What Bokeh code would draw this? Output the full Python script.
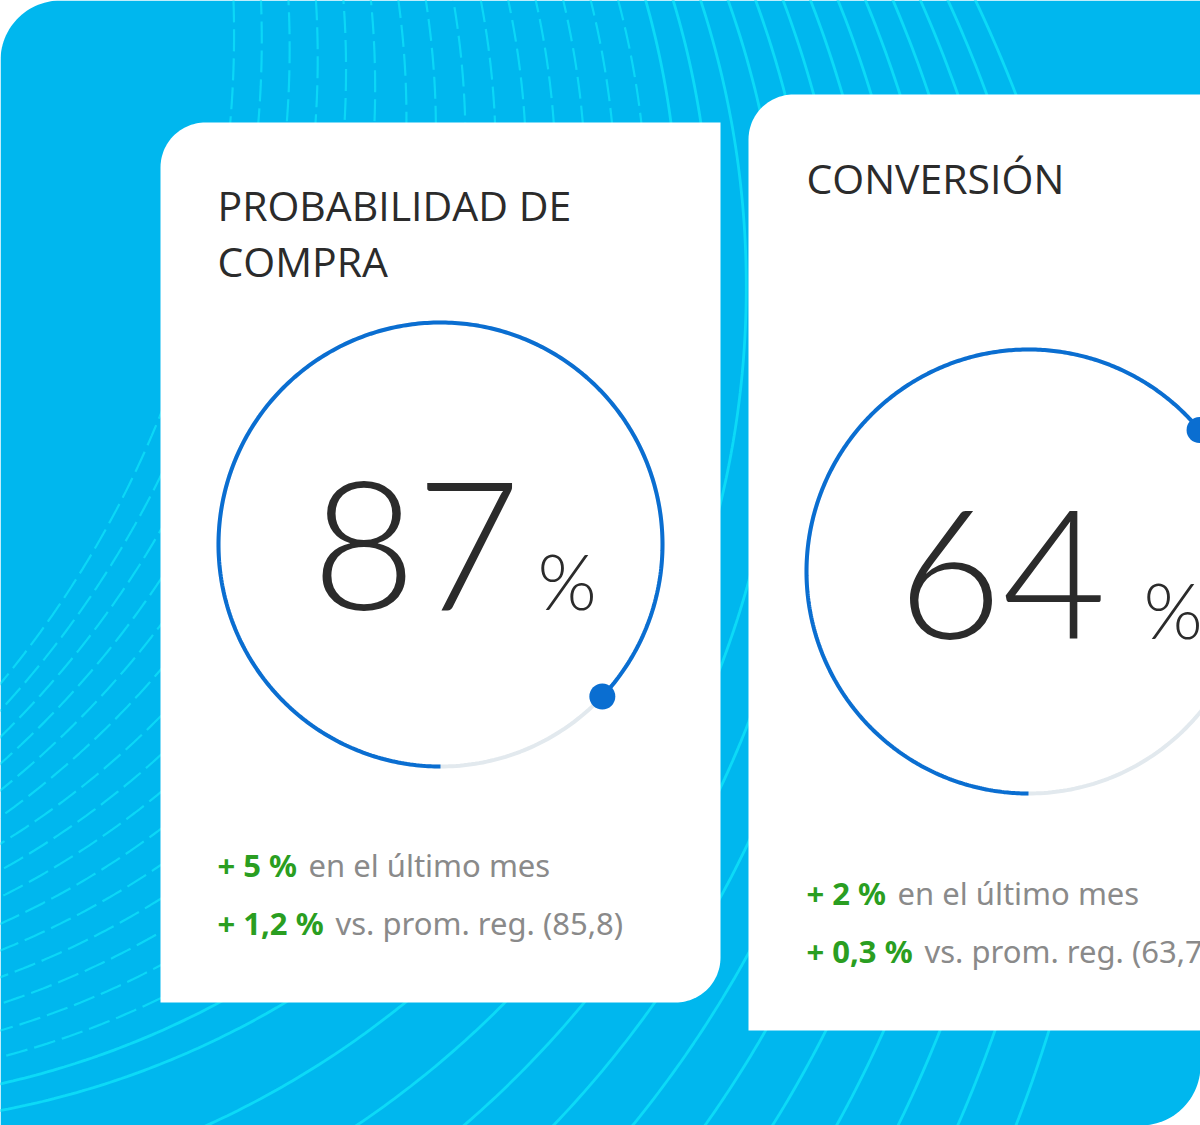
import numpy as np
from bokeh.plotting import figure
from bokeh.models import Range1d
from bokeh.core.properties import value
from bokeh.embed import file_html
from bokeh.resources import INLINE

# ---------------- data ----------------
title_lines = [["PROBABILIDAD DE", "COMPRA"], ["CONVERSIÓN"]]
kpi_values = [87, 64]
month_delta = ["+ 5 %", "+ 2 %"]
month_label = "en el último mes"
region_delta = ["+ 1,2 %", "+ 0,3 %"]
region_avg = ["85,8", "63,7"]

# ---------------- layout / style ----------------
W, H = 1200, 1125
BLUE_BG = "#00B7EE"
LINE_C = "#0CDAF7"
GAUGE_BLUE = "#0A6ED1"
TRACK = "#E2E9EE"
DARK = "#2B2B2B"
GREEN = "#2A9E21"
GREY = "#8A8A8A"

cards = [
    dict(x0=160, y0=122, x1=720, y1=1002, rtl=45, rbr=45, tx=217, title_y=222,
         cx=440, cy=544, num_x=520, pct_x=537, num_y=608, foot_y=877),
    dict(x0=748, y0=94, x1=1320, y1=1030, rtl=45, rbr=0, tx=806, title_y=195,
         cx=1028, cy=571, num_x=1106, pct_x=1143, num_y=637, foot_y=905),
]
GAUGE_R = 222

# font sizes and empirical baseline corrections (svg text renders below the anchor)
TITLE_FS, TITLE_DY = 41, 18
NUM_FS, NUM_DY = 180, 63
PCT_FS, PCT_DY = 76, 28
FOOT_FS, FOOT_DY = 31, 13


def rrect(x0, y0, x1, y1, rtl=0, rtr=0, rbr=0, rbl=0, n=30):
    xs, ys = [], []
    for cx, cy, r, a0, a1 in [(x0 + rtl, y0 + rtl, rtl, 180, 270),
                              (x1 - rtr, y0 + rtr, rtr, 270, 360),
                              (x1 - rbr, y1 - rbr, rbr, 0, 90),
                              (x0 + rbl, y1 - rbl, rbl, 90, 180)]:
        if r == 0:
            xs.append(cx); ys.append(cy)
        else:
            t = np.radians(np.linspace(a0, a1, n))
            xs += list(cx + r * np.cos(t)); ys += list(cy + r * np.sin(t))
    return xs, ys


p = figure(width=W, height=H, x_range=Range1d(0, W), y_range=Range1d(H, 0),
           output_backend="svg", toolbar_location=None, min_border=0,
           x_axis_location=None, y_axis_location=None)
p.grid.visible = False
p.outline_line_color = None
p.background_fill_color = "white"
p.border_fill_color = "white"

# blue backdrop
bx, by = rrect(0, 0, W, H, rtl=60, rbr=60)
p.patch(bx, by, fill_color=BLUE_BG, line_color=None)

# decorative swoosh lines (families of circle arcs)
n_lines = 28
top_x = np.linspace(233, 975, n_lines)
top_slope = np.interp(top_x, [233, 300, 400, 500, 730, 980], [30, 18, 7, 4.8, 2.8, 2.1])
left_y = np.interp(np.arange(n_lines), [0, 16, 27], [683, 1110, 2000])
dashed_xs, dashed_ys, solid_xs, solid_ys = [], [], [], []
phi = np.radians(np.linspace(-90, 180, 700))
for i in range(n_lines):
    xt, s, yl = top_x[i], top_slope[i], left_y[i]
    nn = np.sqrt(1 + s * s)
    a, b = s / nn, 1 / nn
    r = (xt ** 2 + yl ** 2) / (2 * (a * xt + b * yl))
    ccx, ccy = xt - a * r, b * r
    xs = ccx + r * np.cos(phi)
    ys = ccy + r * np.sin(phi)
    if i < 15:
        dashed_xs.append(list(xs)); dashed_ys.append(list(ys))
    else:
        solid_xs.append(list(xs)); solid_ys.append(list(ys))
p.multi_line(dashed_xs, dashed_ys, line_color=LINE_C, line_width=2.2, line_alpha=0.9,
             line_dash="22 7")
p.multi_line(solid_xs, solid_ys, line_color=LINE_C, line_width=2.8, line_alpha=1.0)

# cards
for c in cards:
    xs, ys = rrect(c["x0"], c["y0"], c["x1"], c["y1"], rtl=c["rtl"], rbr=c["rbr"])
    p.patch(xs, ys, fill_color="white", line_color=None)

# gauges
for c, v in zip(cards, kpi_values):
    full = np.radians(np.linspace(0, 360, 361))
    p.line(c["cx"] - GAUGE_R * np.sin(full), c["cy"] + GAUGE_R * np.cos(full),
           line_color=TRACK, line_width=4)
    th = np.radians(np.linspace(0, v / 100 * 360, 400))
    gx = c["cx"] - GAUGE_R * np.sin(th)
    gy = c["cy"] + GAUGE_R * np.cos(th)
    p.line(gx, gy, line_color=GAUGE_BLUE, line_width=4)
    p.scatter([gx[-1]], [gy[-1]], size=26, fill_color=GAUGE_BLUE, line_color=None)

# texts
for k, c in enumerate(cards):
    for j, t in enumerate(title_lines[k]):
        p.text([c["tx"]], [c["title_y"] + 56 * j - TITLE_DY], text=[t],
               text_font=value("Open Sans"), text_font_size=f"{TITLE_FS}px",
               text_color=DARK, text_baseline="alphabetic", text_align="left")
    p.text([c["num_x"]], [c["num_y"] - NUM_DY], text=[str(kpi_values[k])],
           text_font=value("Lato Light"), text_font_size=f"{NUM_FS}px", text_color=DARK,
           text_baseline="alphabetic", text_align="right")
    p.text([c["pct_x"]], [c["num_y"] - PCT_DY], text=["%"], text_font=value("Lato Light"),
           text_font_size=f"{PCT_FS}px", text_color=DARK, text_baseline="alphabetic",
           text_align="left")
    fy = c["foot_y"] - FOOT_DY
    p.text([c["tx"], c["tx"]], [fy, fy + 58], text=[month_delta[k], region_delta[k]],
           text_font=value("Noto Sans"), text_font_style="bold", text_font_size=f"{FOOT_FS}px",
           text_color=GREEN, text_baseline="alphabetic", text_align="left")
    p.text([c["tx"] + 91, c["tx"] + 118], [fy, fy + 58],
           text=[month_label, "vs. prom. reg. (" + region_avg[k] + ")"],
           text_font=value("Noto Sans"), text_font_size=f"{FOOT_FS}px",
           text_color=GREY, text_baseline="alphabetic", text_align="left")

open("out.html", "w").write(file_html(p, INLINE))
